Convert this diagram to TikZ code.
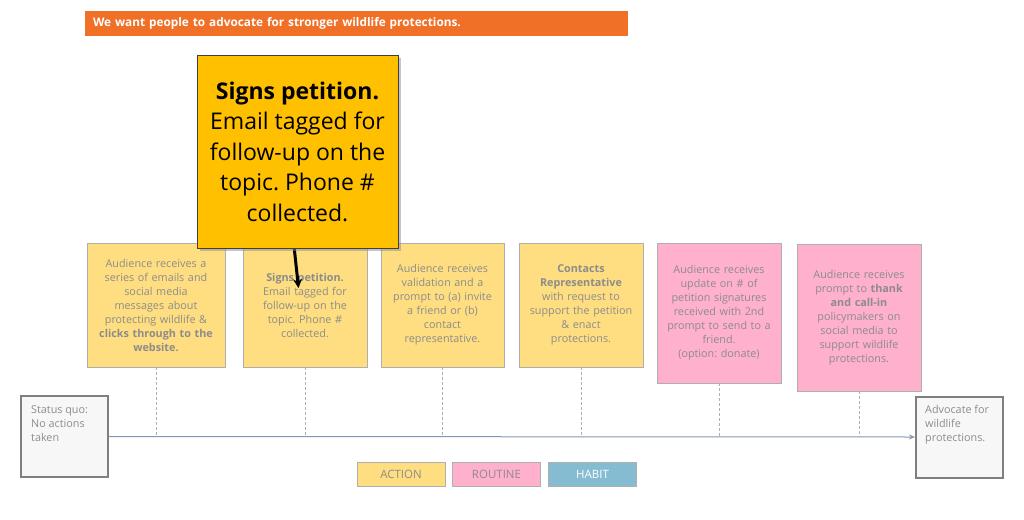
\documentclass[tikz,border=0pt]{standalone}
\usepackage{fontspec}
\setmainfont{Open Sans}
\frenchspacing
\usetikzlibrary{arrows.meta,shadows}
\definecolor{TitleClr}{RGB}{240,112,40}
\definecolor{CallClr}{RGB}{255,192,0}
\definecolor{ActClr}{RGB}{254,222,128}
\definecolor{RouClr}{RGB}{254,176,204}
\definecolor{HabClr}{RGB}{134,188,210}
\definecolor{EdgeClr}{RGB}{175,175,175}
\definecolor{TxtClr}{RGB}{140,140,140}
\definecolor{LineClr}{RGB}{132,151,176}
\definecolor{EndClr}{RGB}{127,127,127}

\begin{document}
\begin{tikzpicture}[x=1pt,y=-1pt,
  card/.style={draw=EdgeClr,line width=0.8pt,text=TxtClr,align=center,inner sep=0pt,
    font=\fontsize{10.8}{14}\selectfont},
  act/.style={card,fill=ActClr},
  rou/.style={card,fill=RouClr},
  endbox/.style={draw=EndClr,line width=2pt,fill=black!3,inner sep=0pt,
    minimum width=87pt,minimum height=81pt},
  endtxt/.style={anchor=north west,inner sep=0pt,text=TxtClr,align=left,
    font=\fontsize{10.8}{14}\selectfont},
  key/.style={draw=EdgeClr,line width=0.8pt,minimum width=88pt,minimum height=24pt,
    inner sep=0pt,font=\fontsize{11.5}{12}\selectfont},
  tick/.style={draw=EdgeClr,line width=0.8pt,dash pattern=on 2.5pt off 2.5pt}]
\useasboundingbox (0,0) rectangle (1024,519);

% goal banner
\node[fill=TitleClr,minimum width=543pt,minimum height=25pt,inner xsep=8pt,inner ysep=0pt,
  text width=527pt,align=left,text=white,font=\fontsize{11.8}{14}\selectfont\bfseries] (title) at (356.5,23.5)
  {We want people to advocate for stronger wildlife protections.};

% journey cards
\node[act,minimum width=138pt,minimum height=124pt,text width=128pt] (c1) at (156,305)
  {Audience receives a\\series of emails and\\social media\\messages about\\protecting wildlife \&\\\textbf{clicks through to the}\\\textbf{website.}};
\node[act,minimum width=124pt,minimum height=124pt,text width=116pt] (c2) at (305,305)
  {\textbf{Signs petition.}\\Email tagged for\\follow-up on the\\topic. Phone \#\\collected.};
\node[act,minimum width=123pt,minimum height=124pt,text width=116pt] (c3) at (442.5,305)
  {Audience receives\\validation and a\\prompt to (a) invite\\a friend or (b)\\contact\\representative.};
\node[act,minimum width=124pt,minimum height=124pt,text width=116pt] (c4) at (581,305)
  {\textbf{Contacts}\\\textbf{Representative}\\with request to\\support the petition\\\& enact\\protections.};
\node[rou,minimum width=124pt,minimum height=140pt,text width=116pt] (c5) at (719,313)
  {Audience receives\\update on \# of\\petition signatures\\received with 2nd\\prompt to send to a\\friend.\\(option: donate)};
\node[rou,minimum width=124pt,minimum height=147pt,text width=116pt] (c6) at (859,317.5)
  {Audience receives\\prompt to \textbf{thank}\\\textbf{and call-in}\\policymakers on\\social media to\\support wildlife\\protections.};

% start and end states
\node[endbox,label={[endtxt,xshift=11pt,yshift=-10pt]north west:Status quo:\\No actions\\taken}] (quo) at (64.5,436.5) {};
\node[endbox,label={[endtxt,xshift=10pt,yshift=-10pt]north west:Advocate for\\wildlife\\protections.}] (goal) at (959.5,437) {};

% timeline
\foreach \i in {1,...,6}
  \draw[tick] (c\i.south) -- (c\i.south |- quo.east);
\draw[LineClr,line width=1pt,-{Stealth[length=6pt,width=5pt]}] (quo.east) -- (goal.west);

% legend
\node[key,fill=ActClr,text=TxtClr] (lAct) at (401,474) {ACTION};
\node[key,fill=RouClr,text=TxtClr] (lRou) at (496.5,474) {ROUTINE};
\node[key,fill=HabClr,text=white] (lHab) at (592.5,474) {HABIT};

% zoomed callout
\coordinate (tip) at (298.5,288);
\draw[black,line width=3pt,-{Stealth[length=9pt,width=9pt]}] (294,246) -- (tip);
\node[fill=CallClr,draw=black!75,line width=0.8pt,minimum width=201pt,minimum height=193pt,
  inner sep=0pt,align=center,font=\fontsize{23}{30.5}\selectfont,
  drop shadow={shadow xshift=3pt,shadow yshift=-3pt,fill=black!45}] (call) at (297.5,151.5)
  {\textbf{Signs petition.}\\Email tagged for\\follow-up on the\\topic. Phone \#\\collected.};

\end{tikzpicture}
\end{document}
